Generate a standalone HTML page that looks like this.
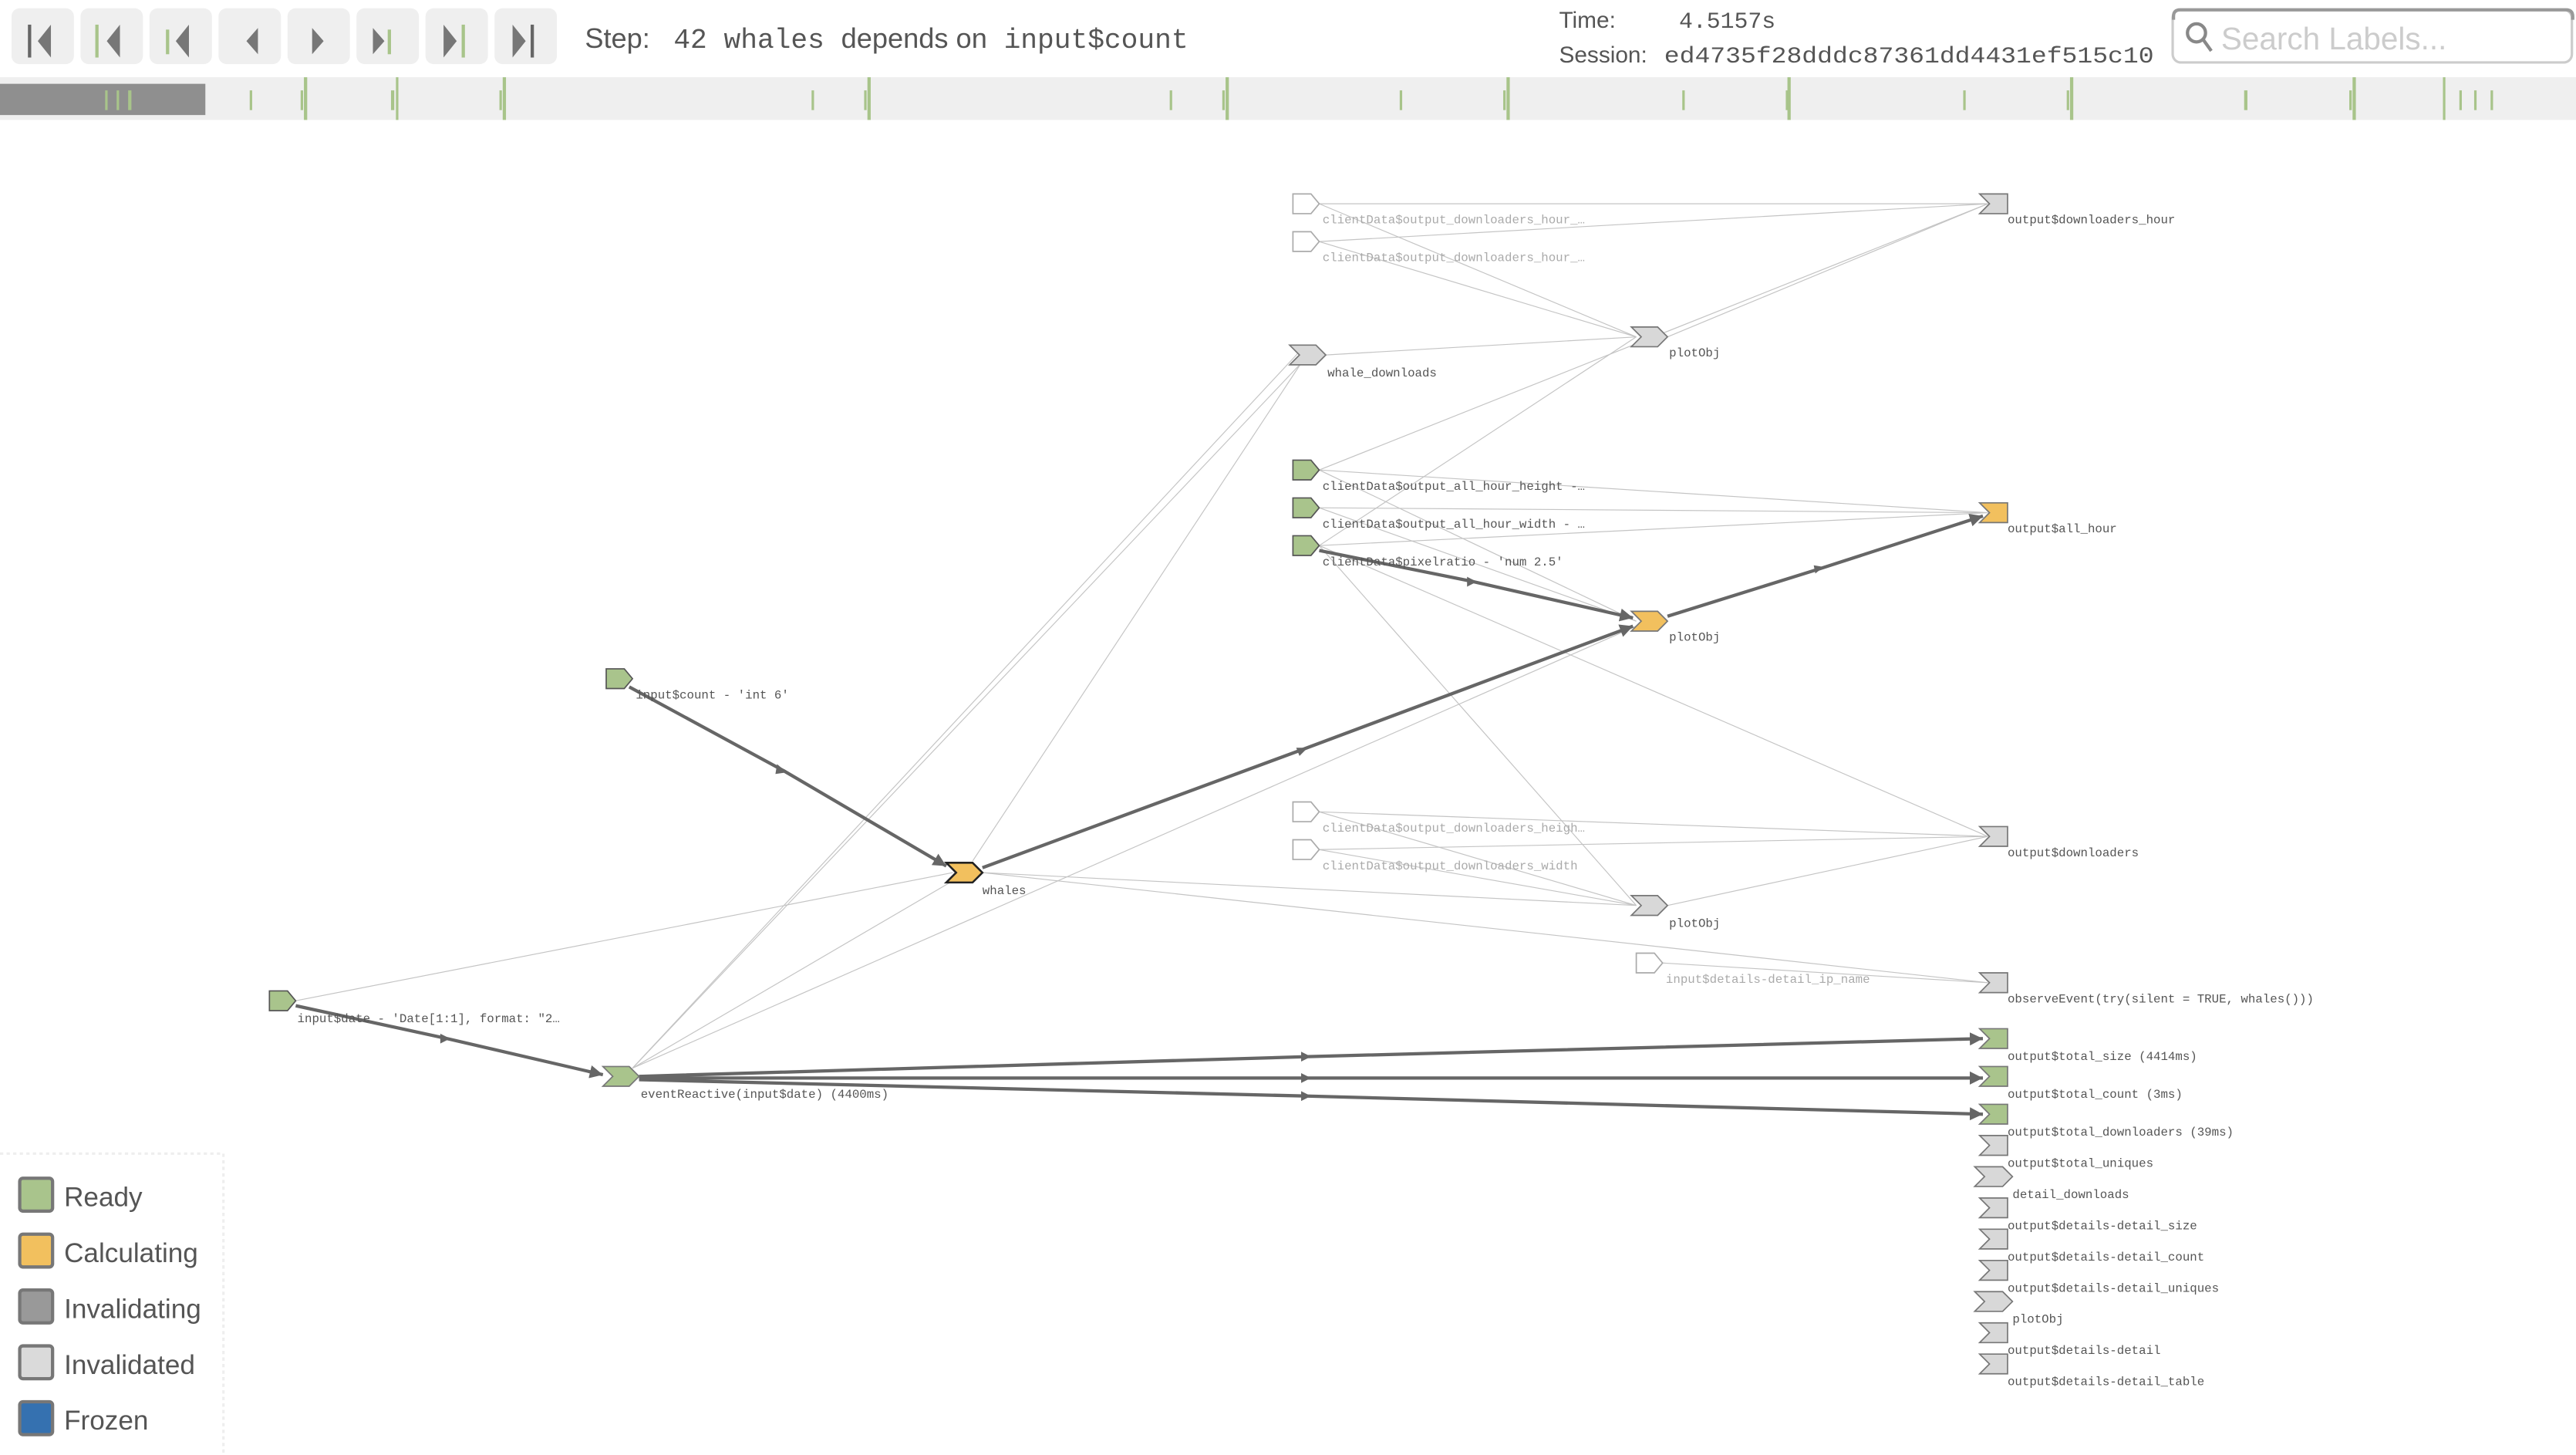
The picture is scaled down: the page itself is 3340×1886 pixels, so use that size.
<!DOCTYPE html>
<html><head><meta charset="utf-8"><style>
html,body{margin:0;padding:0;background:#fff;width:3340px;height:1886px;overflow:hidden}
svg{display:block}
.lbl{font-family:"Liberation Mono","DejaVu Sans Mono",monospace;font-size:7.4px;fill:#555}
.lg{fill:#aaa}
.thin{stroke:#c4c4c4;stroke-width:0.55;fill:none}
.thick{stroke:#666;stroke-width:2;fill:none}
.sans{font-family:"Liberation Sans","DejaVu Sans",sans-serif}
.mono{font-family:"Liberation Mono","DejaVu Sans Mono",monospace}
</style></head><body>
<svg width="3340" height="1886" viewBox="0 0 1568 885.4" xmlns="http://www.w3.org/2000/svg">
<defs>
<marker id="ar" viewBox="0 0 10 10" refX="10" refY="5" markerWidth="4" markerHeight="4" orient="auto"><path d="M0,0 L10,5 L0,10 z" fill="#666"/></marker>
</defs>
<g fill="#efefef">
<rect x="7" y="5" width="38" height="34" rx="5"/><rect x="49" y="5" width="38" height="34" rx="5"/>
<rect x="91" y="5" width="38" height="34" rx="5"/><rect x="133" y="5" width="38" height="34" rx="5"/>
<rect x="175" y="5" width="38" height="34" rx="5"/><rect x="217" y="5" width="38" height="34" rx="5"/>
<rect x="259" y="5" width="38" height="34" rx="5"/><rect x="301" y="5" width="38" height="34" rx="5"/>
</g>
<g fill="#777">
<rect x="17" y="15" width="2" height="20" fill="#666"/><path d="M31,15 l-8,10 l8,10z"/>
<rect x="58" y="15" width="2" height="20" fill="#a8c48a"/><path d="M73,15 l-8,10 l8,10z"/>
<rect x="101" y="18" width="2" height="15" fill="#a8c48a"/><path d="M115,15 l-8,10 l8,10z"/>
<path d="M157,17 l-7,8 l7,8z"/>
<path d="M190,17 l7,8 l-7,8z"/>
<path d="M227,17 l7,8 l-7,8z"/><rect x="236" y="18" width="2" height="15" fill="#a8c48a"/>
<path d="M270,15 l8,10 l-8,10z"/><rect x="281" y="15" width="2" height="20" fill="#a8c48a"/>
<path d="M312,15 l8,10 l-8,10z"/><rect x="323" y="15" width="2" height="20" fill="#666"/>
</g>
<text x="356" y="29" class="sans" font-size="17" fill="#555">Step:</text>
<text x="410" y="29" class="mono" font-size="17" fill="#555">42 whales <tspan class="sans">depends on</tspan> input$count</text>
<text x="949" y="17" class="sans" font-size="14" fill="#555">Time:</text>
<text x="1022" y="17" class="mono" font-size="14" fill="#555">4.5157s</text>
<text x="949" y="38" class="sans" font-size="14" fill="#555">Session:</text>
<text x="1013" y="38" class="mono" font-size="14" fill="#555" textLength="298" lengthAdjust="spacingAndGlyphs">ed4735f28dddc87361dd4431ef515c10</text>
<rect x="1322.5" y="6" width="243" height="32" rx="5" fill="#fff" stroke="#ccc" stroke-width="1.5"/>
<path d="M1323,12 v-2 q0,-4 4,-4 h235 q4,0 4,4 v2" fill="none" stroke="#999" stroke-width="2"/>
<circle cx="1337" cy="20" r="5.5" fill="none" stroke="#888" stroke-width="2"/>
<line x1="1341" y1="24" x2="1346" y2="31" stroke="#888" stroke-width="2"/>
<text x="1352" y="30" class="sans" font-size="19" fill="#ccc">Search Labels...</text>
<rect x="0" y="47" width="1568" height="26" fill="#efefef"/>
<rect x="0" y="51" width="125" height="19" fill="#8f8f8f"/>
<g fill="#a8c48a">
<rect x="185" y="47" width="2" height="26"/><rect x="241" y="47" width="1.5" height="26"/><rect x="306" y="47" width="2" height="26"/>
<rect x="528" y="47" width="2" height="26"/><rect x="746" y="47" width="2" height="26"/><rect x="917" y="47" width="2" height="26"/>
<rect x="1088" y="47" width="2" height="26"/><rect x="1260" y="47" width="2" height="26"/><rect x="1432" y="47" width="2" height="26"/>
<rect x="1487" y="47" width="1.5" height="26"/>
<rect x="64" y="55" width="1.5" height="12"/><rect x="71" y="55" width="1.5" height="12"/><rect x="78" y="55" width="2" height="12"/>
<rect x="152" y="55" width="1.5" height="12"/><rect x="183" y="55" width="1.5" height="12"/><rect x="238" y="55" width="2" height="12"/>
<rect x="304" y="55" width="1.5" height="12"/><rect x="494" y="55" width="1.5" height="12"/><rect x="526" y="55" width="1.5" height="12"/>
<rect x="712" y="55" width="1.5" height="12"/><rect x="744" y="55" width="1.5" height="12"/><rect x="852" y="55" width="1.5" height="12"/>
<rect x="915" y="55" width="1.5" height="12"/><rect x="1024" y="55" width="1.5" height="12"/><rect x="1087" y="55" width="1.5" height="12"/>
<rect x="1195" y="55" width="1.5" height="12"/><rect x="1258" y="55" width="1.5" height="12"/><rect x="1366" y="55" width="2" height="12"/>
<rect x="1430" y="55" width="1.5" height="12"/><rect x="1497" y="55" width="1.5" height="12"/><rect x="1506" y="55" width="1.5" height="12"/><rect x="1516" y="55" width="1.5" height="12"/>
</g>
<g class="thin">
<line x1="803" y1="124" x2="1210" y2="124"/><line x1="803" y1="124" x2="996" y2="205"/>
<line x1="803" y1="147" x2="1210" y2="124"/><line x1="803" y1="147" x2="996" y2="205"/>
<line x1="807" y1="216" x2="996" y2="205"/><line x1="1015" y1="205" x2="1210" y2="124"/>
<line x1="803" y1="286" x2="1210" y2="124"/><line x1="803" y1="332" x2="996" y2="205"/>
<line x1="803" y1="286" x2="1210" y2="312"/><line x1="803" y1="309" x2="1210" y2="312"/><line x1="803" y1="332" x2="1210" y2="312"/>
<line x1="803" y1="286" x2="996" y2="378"/><line x1="803" y1="309" x2="996" y2="378"/>
<line x1="803" y1="332" x2="996" y2="551"/><line x1="803" y1="332" x2="1210" y2="509"/>
<line x1="803" y1="494" x2="1210" y2="509"/><line x1="803" y1="517" x2="1210" y2="509"/>
<line x1="803" y1="494" x2="996" y2="551"/><line x1="803" y1="517" x2="996" y2="551"/>
<line x1="1015" y1="551" x2="1210" y2="509"/>
<line x1="598" y1="531" x2="996" y2="551"/><line x1="598" y1="531" x2="1210" y2="598"/><line x1="592" y1="524" x2="792" y2="221"/>
<line x1="1012" y1="586" x2="1210" y2="598"/>
<line x1="180" y1="609" x2="580" y2="531"/>
<line x1="385" y1="650" x2="792" y2="221"/><line x1="385" y1="650" x2="580" y2="536"/>
<line x1="385" y1="650" x2="996" y2="381"/><line x1="385" y1="650" x2="790" y2="215"/>
</g>
<g class="thick">
<path d="M383,418 L477,469 L576,527" marker-end="url(#ar)"/>
<path d="M598,528 L793,456 L994,381" marker-end="url(#ar)"/>
<path d="M803,335 L897,354 L994,376" marker-end="url(#ar)"/>
<path d="M1015,375 L1108,346 L1207,314" marker-end="url(#ar)"/>
<path d="M180,612 L272,632 L367,654" marker-end="url(#ar)"/>
<path d="M389,655 L796,643 L1207,632" marker-end="url(#ar)"/>
<path d="M389,656 L796,656 L1207,656" marker-end="url(#ar)"/>
<path d="M389,657 L796,667 L1207,678" marker-end="url(#ar)"/>
</g>
<g fill="#666">
<path d="M473,465 l6,5 l-7,1z"/><path d="M789,455 l7,0 l-5,5z"/><path d="M893,351 l6,3 l-6,3z"/><path d="M1104,344 l6,1 l-5,4z"/>
<path d="M268,629 l6,3 l-6,3z"/><path d="M792,640 l6,3 l-6,3z"/><path d="M792,653 l6,3 l-6,3z"/><path d="M792,664 l6,3 l-6,3z"/>
</g>
<g stroke="#777" stroke-width="0.8">
<path d="M787,118 h11 l5,6 l-5,6 h-11z" fill="#fff" stroke="#aaa"/>
<path d="M787,141 h11 l5,6 l-5,6 h-11z" fill="#fff" stroke="#aaa"/>
<path d="M787,488 h11 l5,6 l-5,6 h-11z" fill="#fff" stroke="#aaa"/>
<path d="M787,511 h11 l5,6 l-5,6 h-11z" fill="#fff" stroke="#aaa"/>
<path d="M996,580 h11 l5,6 l-5,6 h-11z" fill="#fff" stroke="#aaa"/>
<path d="M787,280 h11 l5,6 l-5,6 h-11z" fill="#a9c48c" stroke="#555"/>
<path d="M787,303 h11 l5,6 l-5,6 h-11z" fill="#a9c48c" stroke="#555"/>
<path d="M787,326 h11 l5,6 l-5,6 h-11z" fill="#a9c48c" stroke="#555"/>
<path d="M369,407 h11 l5,6 l-5,6 h-11z" fill="#a9c48c" stroke="#555"/>
<path d="M164,603 h11 l5,6 l-5,6 h-11z" fill="#a9c48c" stroke="#555"/>
<path d="M785,210 h16 l6,6 l-6,6 h-16 l6,-6z" fill="#d8d8d8"/>
<path d="M993,199 h16 l6,6 l-6,6 h-16 l6,-6z" fill="#d8d8d8"/>
<path d="M993,372 h16 l6,6 l-6,6 h-16 l6,-6z" fill="#f2c05e"/>
<path d="M993,545 h16 l6,6 l-6,6 h-16 l6,-6z" fill="#d8d8d8"/>
<path d="M576,525 h16 l6,6 l-6,6 h-16 l6,-6z" fill="#f2c05e" stroke="#222" stroke-width="1.2"/>
<path d="M367,649 h16 l6,6 l-6,6 h-16 l6,-6z" fill="#a9c48c"/>
<path d="M1202,710 h17 l6,6 l-6,6 h-17 l6,-6z" fill="#d8d8d8"/>
<path d="M1202,786 h17 l6,6 l-6,6 h-17 l6,-6z" fill="#d8d8d8"/>
<path d="M1205,118 h17 v12 h-17 l6,-6z" fill="#d8d8d8"/>
<path d="M1205,306 h17 v12 h-17 l6,-6z" fill="#f2c05e"/>
<path d="M1205,503 h17 v12 h-17 l6,-6z" fill="#d8d8d8"/>
<path d="M1205,592 h17 v12 h-17 l6,-6z" fill="#d8d8d8"/>
<path d="M1205,626 h17 v12 h-17 l6,-6z" fill="#a9c48c"/>
<path d="M1205,649 h17 v12 h-17 l6,-6z" fill="#a9c48c"/>
<path d="M1205,672 h17 v12 h-17 l6,-6z" fill="#a9c48c"/>
<path d="M1205,691 h17 v12 h-17 l6,-6z" fill="#d8d8d8"/>
<path d="M1205,729 h17 v12 h-17 l6,-6z" fill="#d8d8d8"/>
<path d="M1205,748 h17 v12 h-17 l6,-6z" fill="#d8d8d8"/>
<path d="M1205,767 h17 v12 h-17 l6,-6z" fill="#d8d8d8"/>
<path d="M1205,805 h17 v12 h-17 l6,-6z" fill="#d8d8d8"/>
<path d="M1205,824 h17 v12 h-17 l6,-6z" fill="#d8d8d8"/>
</g>
<g class="lbl">
<text x="805" y="136" class="lg">clientData$output_downloaders_hour_…</text>
<text x="805" y="159" class="lg">clientData$output_downloaders_hour_…</text>
<text x="808" y="229">whale_downloads</text>
<text x="1016" y="217">plotObj</text>
<text x="1222" y="136">output$downloaders_hour</text>
<text x="805" y="298">clientData$output_all_hour_height -…</text>
<text x="805" y="321">clientData$output_all_hour_width - …</text>
<text x="805" y="344">clientData$pixelratio - 'num 2.5'</text>
<text x="1222" y="324">output$all_hour</text>
<text x="1016" y="390">plotObj</text>
<text x="387" y="425">input$count - 'int 6'</text>
<text x="598" y="544">whales</text>
<text x="805" y="506" class="lg">clientData$output_downloaders_heigh…</text>
<text x="805" y="529" class="lg">clientData$output_downloaders_width</text>
<text x="1222" y="521">output$downloaders</text>
<text x="1016" y="564">plotObj</text>
<text x="1014" y="598" class="lg">input$details-detail_ip_name</text>
<text x="1222" y="610">observeEvent(try(silent = TRUE, whales()))</text>
<text x="181" y="622">input$date - 'Date[1:1], format: "2…</text>
<text x="390" y="668">eventReactive(input$date) (4400ms)</text>
<text x="1222" y="645">output$total_size (4414ms)</text>
<text x="1222" y="668">output$total_count (3ms)</text>
<text x="1222" y="691">output$total_downloaders (39ms)</text>
<text x="1222" y="710">output$total_uniques</text>
<text x="1225" y="729">detail_downloads</text>
<text x="1222" y="748">output$details-detail_size</text>
<text x="1222" y="767">output$details-detail_count</text>
<text x="1222" y="786">output$details-detail_uniques</text>
<text x="1225" y="805">plotObj</text>
<text x="1222" y="824">output$details-detail</text>
<text x="1222" y="843">output$details-detail_table</text>
</g>
<line x1="0" y1="702" x2="136" y2="702" stroke="#eee" stroke-width="1.5" stroke-dasharray="2,2"/>
<line x1="136" y1="702" x2="136" y2="885" stroke="#eee" stroke-width="1.5" stroke-dasharray="2,2"/>
<g stroke="#777" stroke-width="2">
<rect x="12" y="717" width="20" height="20" rx="2" fill="#a9c48c"/>
<rect x="12" y="751" width="20" height="20" rx="2" fill="#f2c05e"/>
<rect x="12" y="785" width="20" height="20" rx="2" fill="#999"/>
<rect x="12" y="819" width="20" height="20" rx="2" fill="#dadada"/>
<rect x="12" y="853" width="20" height="20" rx="2" fill="#3571b0"/>
</g>
<g class="sans" font-size="16.5" fill="#555">
<text x="39" y="734">Ready</text><text x="39" y="768">Calculating</text><text x="39" y="802">Invalidating</text>
<text x="39" y="836">Invalidated</text><text x="39" y="870">Frozen</text>
</g>
</svg>
</body></html>
